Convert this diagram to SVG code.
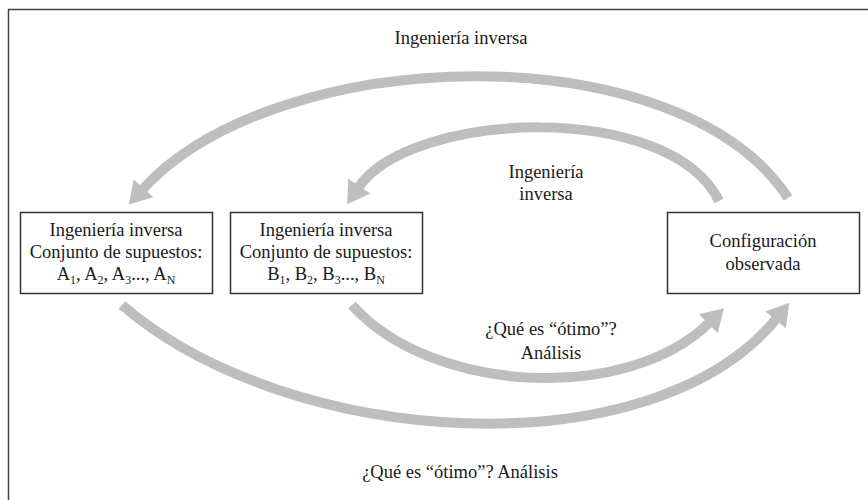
<svg xmlns="http://www.w3.org/2000/svg" width="868" height="500" viewBox="0 0 868 500">
<style>
text{font-family:"Liberation Serif","DejaVu Serif",serif;font-size:18.5px;fill:#1a1a1a;text-anchor:middle}
.box{fill:#fff;stroke:#333;stroke-width:1.5}
.arc{fill:none;stroke:#bdbec0;stroke-width:10}
.sub{font-size:12px}
</style>
<defs>
<marker id="ah" markerUnits="userSpaceOnUse" markerWidth="30" markerHeight="30" viewBox="-4 -13 24 26" refX="0" refY="0" orient="auto">
<polygon points="-2,-11.5 17,0 -2,11.5" fill="#bdbec0"/>
</marker>
</defs>
<rect x="8.5" y="9.5" width="880" height="520" fill="none" stroke="#444" stroke-width="1.5"/>
<text id="title" x="461" y="44">Ingeniería inversa</text>
<g id="connectors">
<path class="arc" d="M788 198 C680 32,276 42,142 190" marker-end="url(#ah)"/>
<path class="arc" d="M719 201 C670 100,410 110,358 188" marker-end="url(#ah)"/>
<path class="arc" d="M352 305 C430 393,626 405,710 322" marker-end="url(#ah)"/>
<path class="arc" d="M122 305 C290 450,653 471,777 318" marker-end="url(#ah)"/>
</g>
<g id="lbl-top-inner"><text x="546" y="178">Ingeniería</text><text x="546" y="200">inversa</text></g>
<g id="lbl-bot-inner"><text x="551" y="335">¿Qué es “ótimo”?</text><text x="551" y="359">Análisis</text></g>
<text id="lbl-bottom" x="460" y="478">¿Qué es “ótimo”? Análisis</text>
<g id="nodeA"><rect class="box" x="20.5" y="212.5" width="192" height="81"/>
<text x="116" y="236">Ingeniería inversa</text><text x="116" y="258">Conjunto de supuestos:</text>
<text x="116" y="280">A<tspan class="sub" dy="4">1</tspan><tspan dy="-4">, A</tspan><tspan class="sub" dy="4">2</tspan><tspan dy="-4">, A</tspan><tspan class="sub" dy="4">3</tspan><tspan dy="-4">..., A</tspan><tspan class="sub" dy="4">N</tspan></text></g>
<g id="nodeB"><rect class="box" x="230.5" y="212.5" width="192" height="81"/>
<text x="326" y="236">Ingeniería inversa</text><text x="326" y="258">Conjunto de supuestos:</text>
<text x="326" y="280">B<tspan class="sub" dy="4">1</tspan><tspan dy="-4">, B</tspan><tspan class="sub" dy="4">2</tspan><tspan dy="-4">, B</tspan><tspan class="sub" dy="4">3</tspan><tspan dy="-4">..., B</tspan><tspan class="sub" dy="4">N</tspan></text></g>
<g id="nodeC"><rect class="box" x="667.5" y="212.5" width="192" height="81"/>
<text x="763" y="247">Configuración</text><text x="763" y="270">observada</text></g>
</svg>
